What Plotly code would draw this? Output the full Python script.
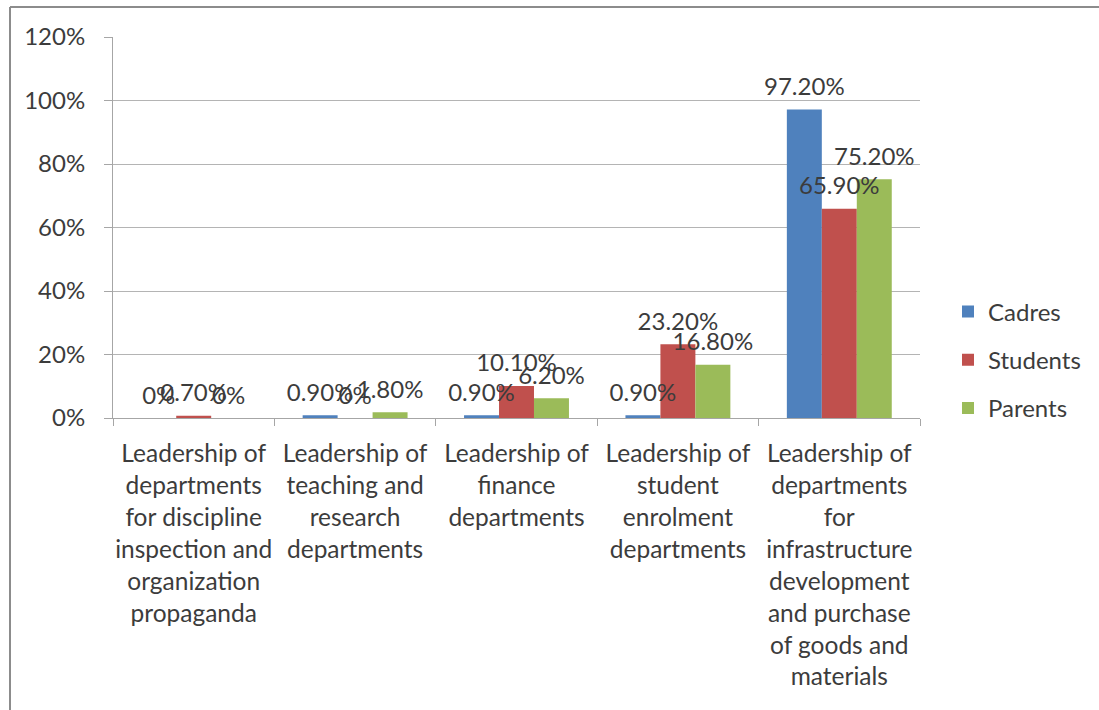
import plotly.graph_objects as go

categories = [
    "Leadership of<br>departments<br>for discipline<br>inspection and<br>organization<br>propaganda",
    "Leadership of<br>teaching and<br>research<br>departments",
    "Leadership of<br>finance<br>departments",
    "Leadership of<br>student<br>enrolment<br>departments",
    "Leadership of<br>departments<br>for<br>infrastructure<br>development<br>and purchase<br>of goods and<br>materials",
]
cadres = [0.0, 0.009, 0.009, 0.009, 0.972]
students = [0.007, 0.0, 0.101, 0.232, 0.659]
parents = [0.0, 0.018, 0.062, 0.168, 0.752]

series = [
    ("Cadres", cadres, "#4F81BD"),
    ("Students", students, "#C0504D"),
    ("Parents", parents, "#9BBB59"),
]

FONT = "Lato, 'Open Sans', sans-serif"
TXT = "#3c3c3c"
FS = 24
GAP = 0.35


def pct_label(v):
    return "0%" if v == 0 else f"{v * 100:.2f}%"


fig = go.Figure()
for name, vals, color in series:
    fig.add_trace(go.Bar(
        name=name,
        x=categories,
        y=vals,
        marker=dict(color=color, line=dict(width=0)),
        offsetgroup=name,
        legendgroup=name,
        hoverinfo="skip",
    ))

# value labels as grouped text traces so they sit above every bar
for name, vals, color in series:
    fig.add_trace(go.Scatter(
        x=categories,
        y=vals,
        mode="markers+text",
        marker=dict(size=12, opacity=0),
        text=[pct_label(v) for v in vals],
        textposition="top center",
        textfont=dict(family=FONT, size=FS, color=TXT),
        offsetgroup=name,
        cliponaxis=False,
        showlegend=False,
        hoverinfo="skip",
    ))

# L-shaped outer frame along the top and left edges
W, H = 1099, 710
ml, mr, mt, mb = 113, 179, 37, 292
pw, ph = W - ml - mr, H - mt - mb


def px_x(p):
    return (p - ml) / pw


def px_y(p):
    return (H - mb - p) / ph


fig.add_shape(type="line", xref="paper", yref="paper",
              x0=px_x(10), x1=px_x(W + 5), y0=px_y(7), y1=px_y(7),
              line=dict(color="#8c8c8c", width=2))
fig.add_shape(type="line", xref="paper", yref="paper",
              x0=px_x(10), x1=px_x(10), y0=px_y(7), y1=px_y(H + 5),
              line=dict(color="#8c8c8c", width=2))

fig.update_layout(
    width=W, height=H,
    margin=dict(l=ml, r=mr, t=mt, b=mb, autoexpand=False),
    paper_bgcolor="white",
    plot_bgcolor="white",
    barmode="group",
    bargap=GAP,
    bargroupgap=0,
    scattermode="group",
    scattergap=GAP,
    font=dict(family=FONT, size=FS, color=TXT),
    showlegend=True,
    legend=dict(
        x=px_x(948), xanchor="left",
        y=px_y(360), yanchor="middle",
        traceorder="grouped",
        tracegroupgap=14,
        font=dict(family=FONT, size=FS, color=TXT),
        bgcolor="rgba(0,0,0,0)",
        itemwidth=30,
    ),
    xaxis=dict(
        showline=True, linecolor="#a6a6a6", linewidth=1,
        ticks="outside", tickson="boundaries", ticklen=7, tickcolor="#a6a6a6",
        ticklabelstandoff=14,
        tickangle=0,
        tickfont=dict(family=FONT, size=24.5, color=TXT),
        showgrid=False, zeroline=False, fixedrange=True,
    ),
    yaxis=dict(
        range=[0, 1.2], dtick=0.2, tick0=0, tickformat=".0%",
        showline=True, linecolor="#a6a6a6", linewidth=1,
        ticks="outside", ticklen=8, tickcolor="#a6a6a6",
        ticklabelstandoff=14,
        showgrid=True, gridcolor="#b4b4b4", gridwidth=1,
        zeroline=False,
        tickfont=dict(family=FONT, size=FS, color=TXT),
        fixedrange=True,
    ),
)

fig.write_html("out.html")
